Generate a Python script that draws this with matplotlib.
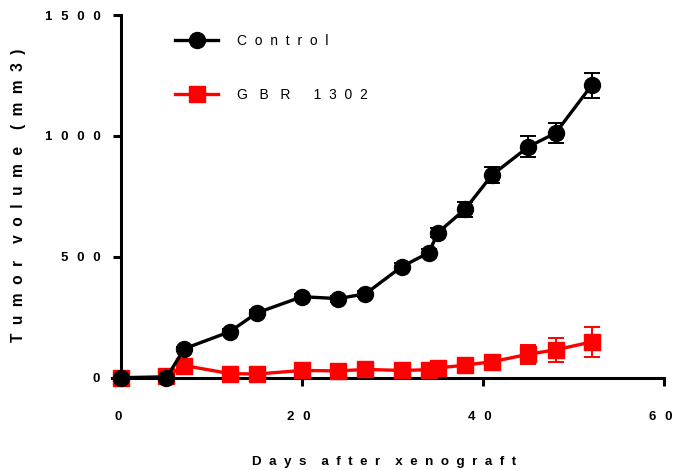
import matplotlib.pyplot as plt
import matplotlib.transforms as mtransforms

# data
days_ctrl = [0, 5, 7, 12, 15, 20, 24, 27, 31, 34, 35, 38, 41, 45, 48, 52]
vol_ctrl = [0, 0, 120, 190, 268, 335, 327, 347, 459, 517, 600, 697, 839, 955, 1012, 1210]
err_ctrl = [0, 0, 8, 10, 12, 12, 12, 12, 14, 15, 18, 31, 33, 43, 40, 52]

days_gbr = [0, 5, 7, 12, 15, 20, 24, 27, 31, 34, 35, 38, 41, 45, 48, 52]
vol_gbr = [0, 5, 50, 17, 15, 30, 28, 34, 30, 33, 40, 52, 66, 97, 115, 148]
err_gbr = [0, 3, 8, 5, 5, 8, 8, 8, 8, 8, 10, 12, 20, 40, 50, 62]

# GraphPad-style letter spacing: two three-per-em spaces between digits
SP = "\u2004\u2004"
x_ticks = [0, 20, 40, 60]
x_ticklabels = ["0", SP.join("20"), SP.join("40"), SP.join("60")]
y_ticks = [0, 500, 1000, 1500]
y_ticklabels = ["0", SP.join("500"), SP.join("1000"), SP.join("1500")]

plt.rcParams['font.family'] = ['Liberation Sans', 'DejaVu Sans']

fig = plt.figure(figsize=(6.75, 4.7), dpi=100)
ax = fig.add_axes([0.166, 0.181, 0.818, 0.787])

red = '#ff0000'

# error bars first, then lines with markers on top
ax.errorbar(days_gbr, vol_gbr, yerr=err_gbr, fmt='none', ecolor=red,
            elinewidth=1.4, capsize=6, capthick=1.4, clip_on=False, zorder=2)
ax.errorbar(days_ctrl, vol_ctrl, yerr=err_ctrl, fmt='none', ecolor='black',
            elinewidth=1.4, capsize=6, capthick=1.4, clip_on=False, zorder=3)

line_gbr, = ax.plot(days_gbr, vol_gbr, color=red, marker='s', markersize=11,
                    linewidth=2.4, clip_on=False, zorder=3)
line_ctrl, = ax.plot(days_ctrl, vol_ctrl, color='black', marker='o', markersize=11.5,
                     linewidth=2.4, clip_on=False, zorder=4)

ax.set_xlim(-1, 60)
ax.set_ylim(-30, 1500)

for side in ['top', 'right']:
    ax.spines[side].set_visible(False)
ax.spines['left'].set_position(('data', 0))
ax.spines['bottom'].set_position(('data', 0))
ax.spines['left'].set_linewidth(2.2)
ax.spines['bottom'].set_linewidth(2.2)

ax.set_xticks(x_ticks)
ax.set_xticklabels(x_ticklabels, fontsize=9.5, fontweight='bold')
ax.set_yticks(y_ticks)
ax.set_yticklabels(y_ticklabels, fontsize=9.5, fontweight='bold')
ax.tick_params(axis='both', direction='out', length=6, width=2.2)
ax.tick_params(axis='x', pad=18)
ax.tick_params(axis='y', pad=9)

# x tick labels sit a little left of their ticks in the original
shift = mtransforms.ScaledTranslation(-3 / 100, 0, fig.dpi_scale_trans)
for lbl in ax.get_xticklabels():
    lbl.set_transform(lbl.get_transform() + shift)

fig.text(0.569, 0.018, 'D  a  y  s    a  f  t  e  r    x  e  n  o  g  r  a  f  t',
         ha='center', va='center', fontsize=9.6, fontweight='bold')
fig.text(0.027, 0.585, 'T  u  m  o  r    v  o  l  u  m  e    (  m  m  3  )',
         ha='center', va='center', rotation=90, fontsize=11.2, fontweight='bold')

ax.legend(
    [line_ctrl, line_gbr], ['C  o  n  t  r  o  l', 'G   B   R      1  3  0  2'],
    loc='upper left', bbox_to_anchor=(0.114, 0.95),
    frameon=False, fontsize=10, handlelength=3.1,
    labelspacing=2.9, handletextpad=1.37, borderpad=0, borderaxespad=0
)

fig.savefig('out.png', dpi=100)
